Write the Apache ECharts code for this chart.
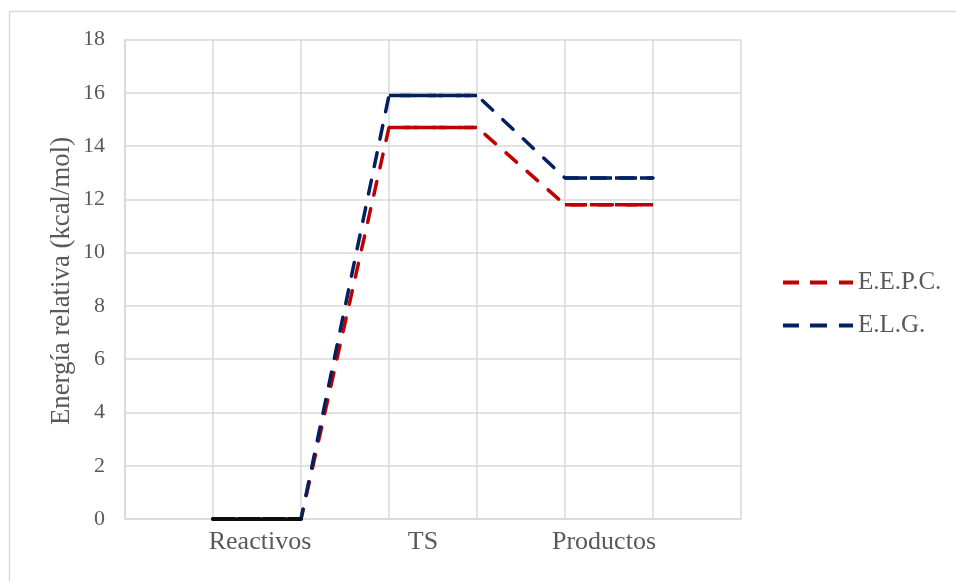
<!DOCTYPE html>
<html>
<head>
<meta charset="utf-8">
<script src="https://cdn.jsdelivr.net/npm/echarts@6/dist/echarts.min.js"></script>
<style>
  html, body { margin: 0; padding: 0; background: #ffffff; }
  #chart { width: 956px; height: 581px; }
</style>
</head>
<body>
<div id="chart"></div>
<script>
// Reaction energy profile: each stage is a flat level joined by dashed connectors
const stages = ['Reactivos', 'TS', 'Productos'];
const eepc = [0, 14.7, 11.8];   // E.E.P.C. relative energies (kcal/mol)
const elg = [0, 15.9, 12.8];    // E.L.G. relative energies (kcal/mol)
const seriesNames = ['E.E.P.C.', 'E.L.G.'];
const seriesColors = ['#C00000', '#002060'];

const FONT = "'Liberation Serif', 'Times New Roman', serif";
const TEXT = '#595959';
const GRID = '#d9d9d9';

// stage i spans x = 2i+1 .. 2i+2 on the value axis
function profilePoints(levels) {
  const pts = [];
  levels.forEach((v, i) => { pts.push([2 * i + 1, v], [2 * i + 2, v]); });
  return pts;
}

// category labels sit at the centre of each stage span
const xLabels = ['', ...stages.flatMap((s, i) => (i < stages.length - 1 ? [s, ''] : [s])), ''];
// small horizontal nudges (px) applied to each stage label
const labelNudge = [3, -10, -5];

// three-dash legend glyph
const DASH_ICON = 'path://M0,0h16v4h-16z M27,0h17v4h-17z M56,0h14v4h-14z';

const profiles = [eepc, elg];
const series = [];

// full profiles with the connector dash pattern (these feed the legend)
profiles.forEach((levels, k) => {
  series.push({
    name: seriesNames[k],
    type: 'line',
    xAxisIndex: 0,
    data: profilePoints(levels),
    symbol: 'none',
    z: 2,
    lineStyle: { color: seriesColors[k], width: 3.5, type: [14, 14], cap: 'round' },
    itemStyle: { color: seriesColors[k] },
    silent: true
  });
});

// flat levels drawn with a longer dash on top of the connectors
profiles.forEach((levels, k) => {
  levels.forEach((v, i) => {
    if (i === 0) return;
    series.push({
      type: 'line',
      xAxisIndex: 0,
      data: [[2 * i + 1, v], [2 * i + 2, v]],
      symbol: 'none',
      z: 3,
      lineStyle: { color: seriesColors[k], width: 3.5, type: [22, 3], cap: 'butt' },
      silent: true
    });
  });
});

// shared reactant level where both profiles coincide
series.push({
  type: 'line',
  xAxisIndex: 0,
  data: [[1, eepc[0]], [2, elg[0]]],
  symbol: 'none',
  z: 4,
  lineStyle: { color: '#0d0d0d', width: 4, type: [22, 3], cap: 'round' },
  silent: true
});

// rich styles that pad each label so its centre shifts by the nudge
const labelRich = {};
labelNudge.forEach((d, i) => {
  labelRich['s' + i] = {
    color: TEXT, fontFamily: FONT, fontSize: 26,
    padding: d >= 0 ? [0, 0, 0, 2 * d] : [0, -2 * d, 0, 0]
  };
});

const chart = echarts.init(document.getElementById('chart'), null, { renderer: 'canvas' });
chart.setOption({
  animation: false,
  backgroundColor: '#ffffff',
  textStyle: { fontFamily: FONT },
  grid: { left: 125, right: 215, top: 39.5, bottom: 62, containLabel: false },
  xAxis: [
    {
      type: 'value', min: 0, max: 7, interval: 1,
      axisLine: { show: true, lineStyle: { color: GRID, width: 1.5 } },
      axisTick: { show: false },
      axisLabel: { show: false },
      splitLine: { show: true, lineStyle: { color: GRID, width: 1.5 } }
    },
    {
      type: 'category', data: xLabels, boundaryGap: true, position: 'bottom',
      axisLine: { show: false }, axisTick: { show: false }, splitLine: { show: false },
      axisLabel: {
        interval: 0, color: TEXT, fontFamily: FONT, fontSize: 26, margin: 10,
        formatter: (val) => {
          const i = stages.indexOf(val);
          return i < 0 ? '' : '{s' + i + '|' + val + '}';
        },
        rich: labelRich
      }
    }
  ],
  yAxis: {
    type: 'value', min: 0, max: 18, interval: 2,
    axisLine: { show: true, lineStyle: { color: GRID, width: 1.5 } },
    axisTick: { show: false },
    axisLabel: { color: TEXT, fontFamily: FONT, fontSize: 22, margin: 20 },
    splitLine: { show: true, lineStyle: { color: GRID, width: 1.5 } }
  },
  legend: {
    orient: 'vertical',
    left: 778, top: 265,
    itemWidth: 70, itemHeight: 4, itemGap: 18,
    data: seriesNames.map(n => ({ name: n, icon: DASH_ICON })),
    textStyle: { color: TEXT, fontFamily: FONT, fontSize: 25, lineHeight: 24, padding: [0, 0, 0, 0] },
    selectedMode: false
  },
  graphic: [
    {
      type: 'rect', silent: true, z: -1,
      shape: { x: 9.5, y: 11.5, width: 1200, height: 1200 },
      style: { fill: null, stroke: GRID, lineWidth: 1.5 }
    },
    {
      type: 'text', silent: true,
      x: 62, y: 281, rotation: Math.PI / 2,
      style: {
        text: 'Energía relativa (kcal/mol)',
        fill: TEXT, font: '26.8px ' + FONT,
        align: 'center', verticalAlign: 'middle'
      }
    }
  ],
  series: series
});
</script>
</body>
</html>
